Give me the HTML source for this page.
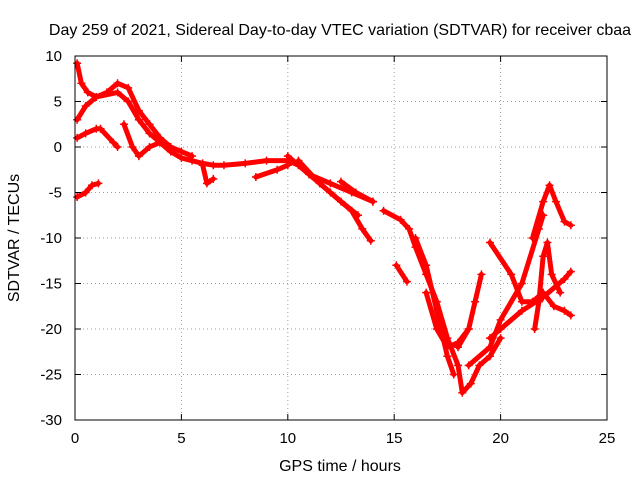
<!DOCTYPE html>
<html><head><meta charset="utf-8"><style>
body{margin:0;background:#fff}
svg{display:block;font-family:"Liberation Sans",sans-serif}
</style></head><body>
<svg id="chart" width="640" height="480">
<text x="340" y="35" font-size="16" text-anchor="middle">Day 259 of 2021, Sidereal Day-to-day VTEC variation (SDTVAR) for receiver cbaa</text>
<text x="340" y="471" font-size="16" text-anchor="middle">GPS time / hours</text>
<text x="19" y="238" font-size="16" text-anchor="middle" transform="rotate(-90 19 238)">SDTVAR / TECUs</text>
<g id="grid"></g>
<g id="marks"></g>
<rect x="75" y="56" width="532" height="364" fill="none" stroke="#000" stroke-width="1"/>
<g id="ticks"></g>
</svg>
<script>
const xTicks=[0,5,10,15,20,25];
const yTicks=[10,5,0,-5,-10,-15,-20,-25,-30];
const trackA=[[0.1,9.2],[0.3,7],[0.6,6],[1,5.5],[1.5,6],[2,7],[2.5,6.5],[3,4],[3.5,2.5],[4,1],[4.5,0],[5,-0.5],[5.5,-1]];
const trackB=[[0.1,3],[0.5,4.5],[1,5.5],[2,6],[2.5,5],[3,3],[3.5,1.5],[4,0.5],[4.5,-0.5]];
const trackC=[[0.1,1],[0.5,1.5],[1,2],[1.2,2],[1.8,0.5],[2,0]];
const trackD=[[0.1,-5.5],[0.5,-5],[0.8,-4.2],[1.1,-4]];
const trackE=[[2.3,2.5],[2.7,0],[3,-1],[3.5,0],[4,0.5],[4.5,-0.5],[5,-1.2],[5.5,-1.5],[6,-1.8],[6.5,-2],[7,-2],[8,-1.8],[9,-1.5],[10,-1.5],[10.5,-2],[11,-3],[12,-4],[13,-5],[14,-6]];
const trackF=[[10,-1],[11,-3],[12,-5],[13,-7],[13.5,-9],[13.9,-10.3]];
const trackG=[[10.5,-1.5],[11.5,-4],[12.5,-6],[13.3,-7.5]];
const trackH=[[12.5,-3.8],[13.2,-5],[14,-6]];
const trackI=[[6,-2],[6.2,-4],[6.5,-3.5]];
const trackJ=[[8.5,-3.3],[9.5,-2.5],[10,-2]];
const trackK=[[14.5,-7],[15.3,-8],[15.7,-9],[16,-11],[16.5,-14],[17,-17],[17.5,-21],[18,-24],[18.2,-27],[18.6,-26],[19,-24],[19.5,-23],[20,-21]];
const trackL=[[15.1,-13],[15.6,-14.8]];
const trackM=[[16,-10],[16.5,-13],[17,-18],[17.5,-23],[17.8,-25]];
const trackN=[[16.5,-16],[17,-20],[17.5,-22],[18,-21.5],[18.5,-20]];
const trackO=[[19.1,-14],[18.8,-17],[18.5,-20],[18,-22]];
const trackP=[[19.5,-10.5],[20.5,-14],[21,-17],[21.5,-17],[22,-16],[22.5,-17.5],[23,-18],[23.3,-18.5]];
const trackQ=[[21.5,-10],[22,-6],[22.3,-4.2],[22.6,-6],[23,-8.2],[23.3,-8.6]];
const trackR=[[18.5,-24],[19.5,-22],[20,-19],[21,-15],[21.8,-9],[22,-7.5]];
const trackS=[[19.5,-21],[20,-20],[21,-18],[22,-16.5],[23,-14.5],[23.3,-13.7]];
const trackT=[[21.6,-20],[21.8,-17],[22,-12],[22.2,-10.5],[22.4,-14],[22.8,-16]];
const tracks=[trackA,trackB,trackC,trackD,trackE,trackF,trackG,trackH,trackI,trackJ,trackK,trackL,trackM,trackN,trackO,trackP,trackQ,trackR,trackS,trackT];
const X=v=>75+v*(532/25), Y=v=>56+(10-v)*(364/40);
const NS="http://www.w3.org/2000/svg";
const grid=document.getElementById('grid'),ticks=document.getElementById('ticks'),marks=document.getElementById('marks');
function mk(tag,at,parent){const e=document.createElementNS(NS,tag);for(const k in at)e.setAttribute(k,at[k]);parent.appendChild(e);return e;}
xTicks.forEach(t=>{
 if(t>0&&t<25){const g=mk('line',{x1:X(t),x2:X(t),y1:56,y2:420,stroke:'#a0a0a0','stroke-dasharray':'1,3'},grid);
 
 }
 mk('line',{x1:X(t),x2:X(t),y1:420,y2:414,stroke:'#000'},ticks);
 mk('line',{x1:X(t),x2:X(t),y1:56,y2:62,stroke:'#000'},ticks);
 const l=mk('text',{x:X(t),y:443,'font-size':15,'text-anchor':'middle'},ticks);l.textContent=t;
 
 
});
yTicks.forEach(t=>{
 if(t>-30&&t<10){const g=mk('line',{x1:75,x2:607,y1:Y(t),y2:Y(t),stroke:'#a0a0a0','stroke-dasharray':'1,3'},grid);
 
 }
 mk('line',{x1:75,x2:81,y1:Y(t),y2:Y(t),stroke:'#000'},ticks);
 mk('line',{x1:601,x2:607,y1:Y(t),y2:Y(t),stroke:'#000'},ticks);
 const l=mk('text',{x:62,y:Y(t)+5,'font-size':15,'text-anchor':'end'},ticks);l.textContent=t;
 
 
});
tracks.forEach(tr=>{
 const p=mk('polyline',{points:tr.map(d=>X(d[0])+','+Y(d[1])).join(' '),fill:'none',stroke:'#ff0000','stroke-width':5,'stroke-linejoin':'round','stroke-linecap':'round'},marks);
 
 
 tr.forEach(d=>{
  const m=mk('path',{d:`M${X(d[0])-4},${Y(d[1])}h8M${X(d[0])},${Y(d[1])-4}v8`,stroke:'#ff0000','stroke-width':1.5},marks);
  
  
 });
});
</script>
</body></html>
